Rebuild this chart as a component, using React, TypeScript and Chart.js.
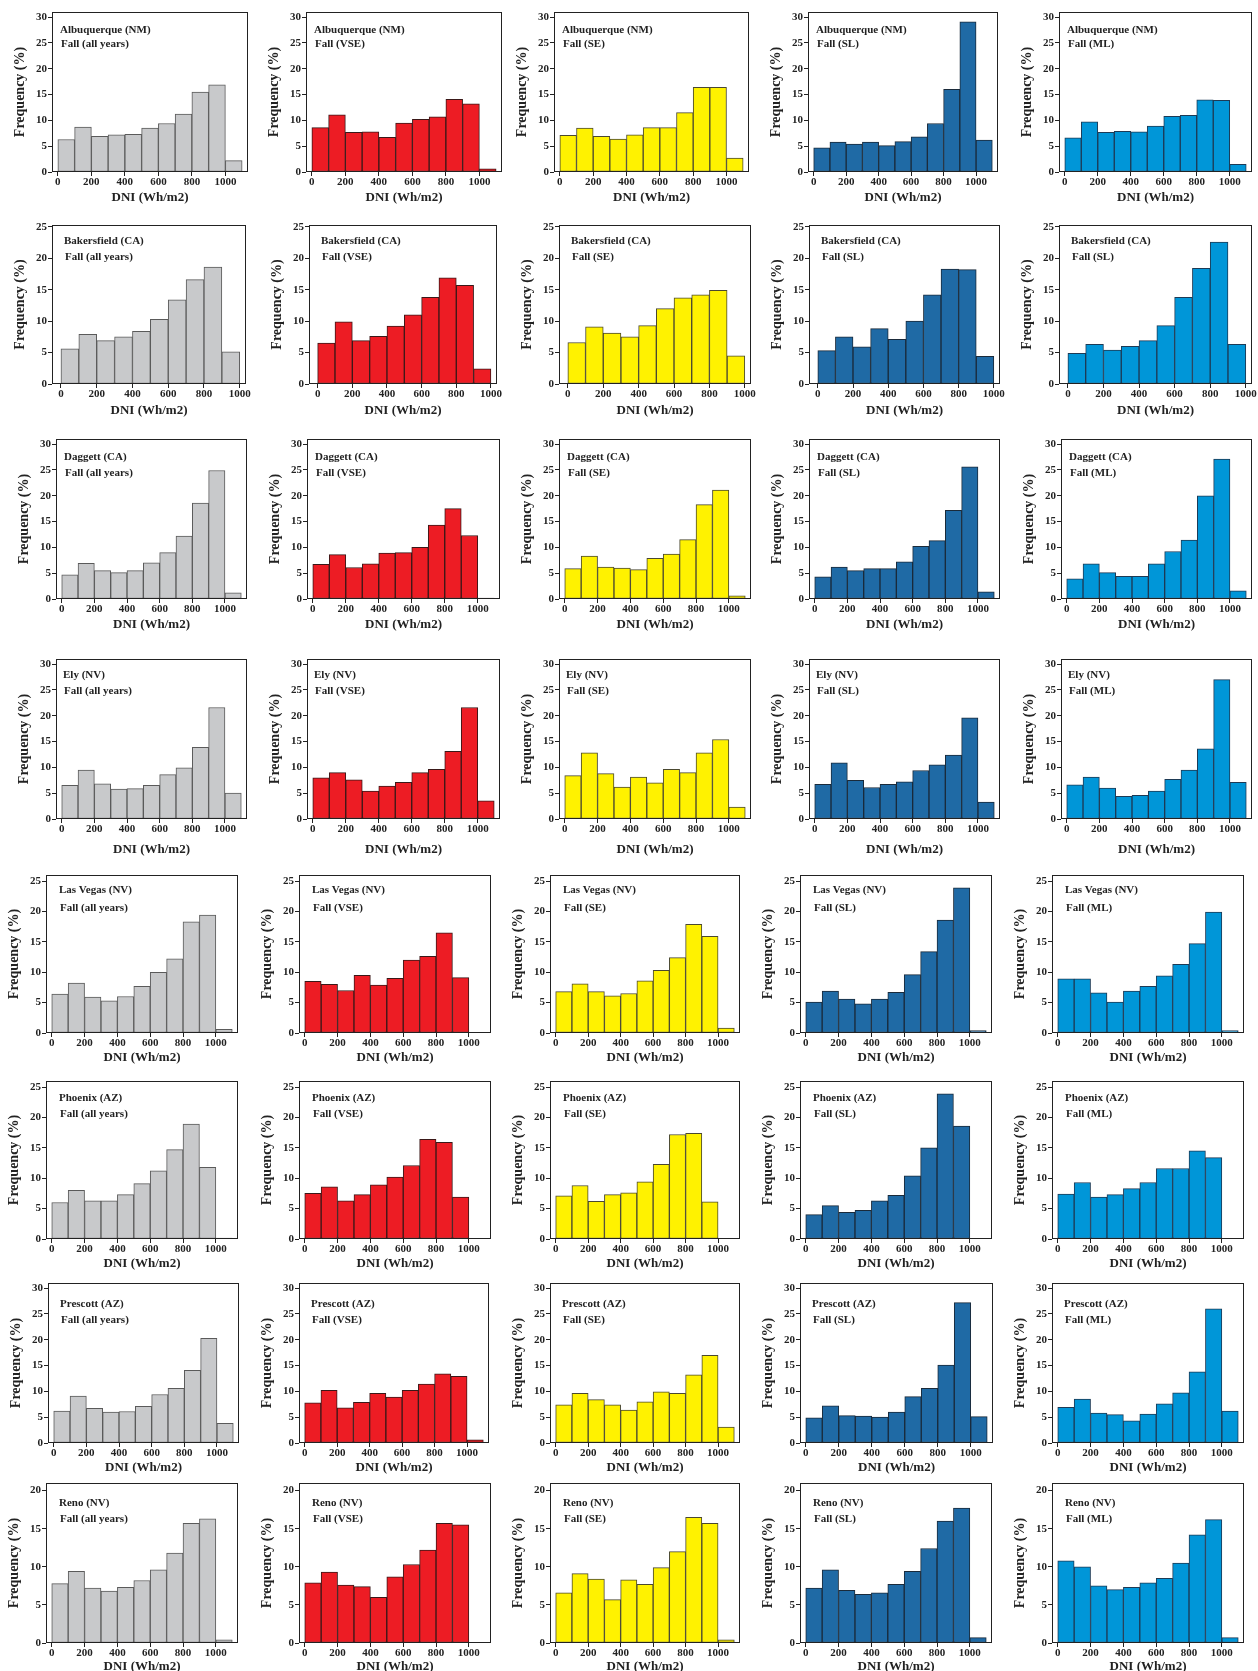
import React, { useEffect, useRef } from "react";
import { Chart, registerables } from "chart.js";

Chart.register(...registerables);

// ---------------- data ----------------
const stations = [
  "Albuquerque (NM)",
  "Bakersfield (CA)",
  "Daggett (CA)",
  "Ely (NV)",
  "Las Vegas (NV)",
  "Phoenix (AZ)",
  "Prescott (AZ)",
  "Reno (NV)",
];
const seasonLabels = ["Fall (all years)", "Fall (VSE)", "Fall (SE)", "Fall (SL)", "Fall (ML)"];
const bakersfieldLabels = ["Fall (all years)", "Fall (VSE)", "Fall (SE)", "Fall (SL)", "Fall (SL)"];

const binCenters = [50, 150, 250, 350, 450, 550, 650, 750, 850, 950, 1050];
const xTickValues = [0, 200, 400, 600, 800, 1000];
const yTicks30 = [0, 5, 10, 15, 20, 25, 30];
const yTicks25 = [0, 5, 10, 15, 20, 25];
const yTicks20 = [0, 5, 10, 15, 20];

const abqAll = [6.3, 8.7, 6.9, 7.2, 7.3, 8.5, 9.4, 11.2, 15.5, 16.9, 2.2];
const abqVSE = [8.6, 11.1, 7.7, 7.8, 6.7, 9.5, 10.2, 10.7, 14.1, 13.2, 0.6];
const abqSE = [7.1, 8.5, 6.9, 6.4, 7.2, 8.6, 8.6, 11.5, 16.4, 16.4, 2.7];
const abqSL = [4.7, 5.8, 5.4, 5.8, 5.1, 5.9, 6.8, 9.4, 16.0, 29.1, 6.2];
const abqML = [6.6, 9.7, 7.7, 7.9, 7.8, 8.9, 10.8, 11.0, 14.0, 13.9, 1.5];

const bakAll = [5.6, 7.9, 6.9, 7.5, 8.4, 10.3, 13.4, 16.6, 18.6, 5.1];
const bakVSE = [6.5, 9.9, 6.9, 7.6, 9.2, 11.0, 13.8, 16.9, 15.7, 2.4];
const bakSE = [6.6, 9.1, 8.1, 7.5, 9.3, 12.0, 13.7, 14.2, 14.9, 4.5];
const bakSL = [5.3, 7.5, 5.9, 8.8, 7.1, 10.0, 14.2, 18.3, 18.2, 4.4];
const bakML = [4.9, 6.3, 5.4, 6.0, 6.9, 9.3, 13.8, 18.4, 22.6, 6.3];

const dagAll = [4.7, 6.9, 5.5, 5.1, 5.5, 7.0, 9.0, 12.2, 18.6, 24.9, 1.2];
const dagVSE = [6.7, 8.6, 6.1, 6.8, 8.9, 9.0, 10.0, 14.3, 17.5, 12.3, 0.2];
const dagSE = [5.9, 8.3, 6.2, 6.0, 5.7, 7.9, 8.7, 11.5, 18.3, 21.1, 0.6];
const dagSL = [4.3, 6.2, 5.5, 5.9, 5.9, 7.2, 10.2, 11.3, 17.2, 25.6, 1.4];
const dagML = [3.9, 6.8, 5.1, 4.4, 4.4, 6.8, 9.2, 11.4, 20.0, 27.1, 1.6];

const elyAll = [6.5, 9.5, 6.8, 5.8, 5.9, 6.5, 8.6, 9.9, 13.9, 21.6, 5.0];
const elyVSE = [8.0, 9.0, 7.6, 5.4, 6.4, 7.1, 9.0, 9.6, 13.1, 21.6, 3.5];
const elySE = [8.4, 12.8, 8.8, 6.2, 8.1, 7.0, 9.6, 9.0, 12.8, 15.4, 2.3];
const elySL = [6.7, 10.9, 7.5, 6.1, 6.7, 7.2, 9.4, 10.5, 12.4, 19.6, 3.3];
const elyML = [6.6, 8.1, 6.0, 4.4, 4.6, 5.4, 7.7, 9.5, 13.6, 27.0, 7.1];

const lvAll = [6.4, 8.2, 5.9, 5.3, 6.0, 7.7, 10.0, 12.2, 18.3, 19.4, 0.6];
const lvVSE = [8.5, 8.0, 7.0, 9.5, 7.9, 9.0, 12.0, 12.6, 16.5, 9.1, 0.1];
const lvSE = [6.8, 8.1, 6.8, 6.1, 6.5, 8.6, 10.3, 12.4, 17.9, 15.9, 0.8];
const lvSL = [5.1, 6.9, 5.6, 4.8, 5.6, 6.7, 9.6, 13.4, 18.6, 23.9, 0.4];
const lvML = [8.9, 8.9, 6.6, 5.1, 6.9, 7.7, 9.4, 11.3, 14.7, 19.9, 0.4];

const phxAll = [6.0, 8.0, 6.3, 6.3, 7.3, 9.1, 11.2, 14.7, 18.9, 11.8, 0.15];
const phxVSE = [7.5, 8.6, 6.3, 7.3, 8.9, 10.2, 12.1, 16.4, 15.9, 6.9, 0.1];
const phxSE = [7.1, 8.8, 6.2, 7.3, 7.6, 9.4, 12.3, 17.2, 17.4, 6.1, 0.1];
const phxSL = [4.0, 5.5, 4.4, 4.7, 6.3, 7.2, 10.4, 15.0, 23.9, 18.6, 0.1];
const phxML = [7.4, 9.3, 6.9, 7.3, 8.3, 9.3, 11.6, 11.6, 14.5, 13.4, 0.1];

const preAll = [6.2, 9.1, 6.7, 6.0, 6.1, 7.1, 9.4, 10.6, 14.1, 20.3, 3.8];
const preVSE = [7.8, 10.2, 6.8, 7.9, 9.6, 8.9, 10.2, 11.4, 13.4, 12.9, 0.6];
const preSE = [7.4, 9.6, 8.4, 7.4, 6.4, 8.0, 9.9, 9.6, 13.2, 17.0, 3.1];
const preSL = [4.9, 7.2, 5.3, 5.2, 5.0, 6.0, 9.0, 10.6, 15.1, 27.2, 5.1];
const preML = [6.9, 8.5, 5.8, 5.5, 4.3, 5.6, 7.6, 9.7, 13.8, 26.0, 6.2];

const renAll = [7.8, 9.4, 7.2, 6.8, 7.3, 8.2, 9.6, 11.8, 15.7, 16.3, 0.4];
const renVSE = [7.9, 9.3, 7.6, 7.4, 6.0, 8.7, 10.3, 12.2, 15.7, 15.5, 0.1];
const renSE = [6.6, 9.1, 8.4, 5.7, 8.3, 7.7, 9.9, 12.0, 16.5, 15.7, 0.4];
const renSL = [7.2, 9.6, 6.9, 6.4, 6.6, 7.7, 9.4, 12.4, 16.0, 17.7, 0.7];
const renML = [10.8, 10.0, 7.5, 7.0, 7.3, 7.9, 8.5, 10.5, 14.2, 16.2, 0.7];

const seriesByRow = [
  [abqAll, abqVSE, abqSE, abqSL, abqML],
  [bakAll, bakVSE, bakSE, bakSL, bakML],
  [dagAll, dagVSE, dagSE, dagSL, dagML],
  [elyAll, elyVSE, elySE, elySL, elyML],
  [lvAll, lvVSE, lvSE, lvSL, lvML],
  [phxAll, phxVSE, phxSE, phxSL, phxML],
  [preAll, preVSE, preSE, preSL, preML],
  [renAll, renVSE, renSE, renSL, renML],
];
const rowYMax = [31, 25.3, 31, 31, 26, 26, 31, 21];
const rowYTicks = [yTicks30, yTicks25, yTicks30, yTicks30, yTicks25, yTicks25, yTicks30, yTicks20];
const rowXMin = [-35, -50, -35, -35, -35, -35, -35, -35];
const rowXMax = [1135, 1035, 1135, 1135, 1135, 1135, 1135, 1135];

// ---------------- styles / layout ----------------
const fills = ["#c8c9cb", "#ed1c24", "#fff200", "#1f6aa5", "#0096d8"];
const edges = ["#5a5a5a", "#3a1818", "#4a4830", "#1a2a3a", "#1d3a55"];

const rowTop = [12, 225, 439, 659, 875, 1081, 1283, 1483];
const rowBottom = [172, 384, 599, 819, 1033, 1239, 1443, 1643];
const rowLefts = [
  [52, 306, 554, 808, 1059],
  [52, 309, 559, 809, 1059],
  [56, 307, 559, 809, 1061],
  [56, 307, 559, 809, 1061],
  [46, 299, 550, 800, 1052],
  [46, 299, 550, 800, 1052],
  [48, 299, 550, 800, 1052],
  [46, 299, 550, 800, 1052],
];
const rowRights = [
  [248, 502, 749, 998, 1252],
  [246, 497, 751, 1000, 1252],
  [247, 500, 751, 1000, 1252],
  [247, 500, 751, 1000, 1252],
  [238, 491, 740, 992, 1244],
  [238, 491, 740, 992, 1244],
  [239, 489, 740, 993, 1244],
  [238, 491, 740, 992, 1244],
];
const rowXTitleOffset = [26, 27, 26, 31, 25, 25, 25, 24];
const rowText1 = [18, 16, 18, 16, 15, 17, 21, 20];
const rowText2 = [32, 32, 34, 32, 33, 33, 37, 36];
const rowTextInset = [8, 12, 8, 7, 13, 13, 12, 13];

const FONT = '"Liberation Serif", "Times New Roman", serif';
const M_L = 56;
const M_T = 10;
const M_R = 10;
const M_B = 42;

type PanelProps = { row: number; col: number };

function Panel({ row, col }: PanelProps) {
  const ref = useRef<HTMLCanvasElement>(null);
  const left = rowLefts[row][col];
  const right = rowRights[row][col];
  const top = rowTop[row];
  const bottom = rowBottom[row];
  const W = right - left + M_L + M_R;
  const H = bottom - top + M_T + M_B;

  useEffect(() => {
    const canvas = ref.current;
    if (!canvas) return;
    const values = seriesByRow[row][col];
    const title = stations[row];
    const sub = row === 1 ? bakersfieldLabels[col] : seasonLabels[col];
    const yTickVals = rowYTicks[row];

    const decor = {
      id: "decor" + row + "_" + col,
      afterDatasetsDraw(chart: any) {
        const { ctx, chartArea: a } = chart;
        ctx.save();
        ctx.strokeStyle = "#222";
        ctx.lineWidth = 1;
        const l = Math.round(a.left) + 0.5;
        const t = Math.round(a.top) + 0.5;
        const r = Math.round(a.right) - 0.5;
        const b = Math.round(a.bottom) - 0.5;
        ctx.strokeRect(l, t, r - l, b - t);

        ctx.fillStyle = "#222";
        ctx.textAlign = "left";
        ctx.textBaseline = "middle";
        ctx.font = "bold 11px " + FONT;
        ctx.fillText(title, a.left + rowTextInset[row], a.top + rowText1[row]);
        ctx.fillText(sub, a.left + rowTextInset[row] + 1, a.top + rowText2[row]);

        ctx.font = "bold 13px " + FONT;
        ctx.textAlign = "center";
        ctx.fillText("DNI (Wh/m2)", (a.left + a.right) / 2, a.bottom + rowXTitleOffset[row]);

        ctx.translate(a.left - 32, (a.top + a.bottom) / 2);
        ctx.rotate(-Math.PI / 2);
        ctx.font = "bold 14px " + FONT;
        ctx.fillText("Frequency (%)", 0, 0);
        ctx.restore();
      },
    };

    const tickFont = { family: FONT, size: 11, weight: "bold" as const };

    const chart = new Chart(canvas, {
      type: "bar",
      data: {
        datasets: [
          {
            data: values.map((v, i) => ({ x: binCenters[i], y: v })),
            backgroundColor: fills[col],
            borderColor: edges[col],
            borderWidth: 1,
            borderSkipped: false,
            barPercentage: 1,
            categoryPercentage: 1,
          } as any,
        ],
      },
      options: {
        animation: false,
        responsive: false,
        maintainAspectRatio: false,
        layout: { padding: { top: M_T, right: M_R, left: 0, bottom: 0 } },
        plugins: { legend: { display: false }, tooltip: { enabled: false } },
        scales: {
          x: {
            type: "linear",
            min: rowXMin[row],
            max: rowXMax[row],
            offset: false,
            afterFit: (s: any) => {
              s.height = M_B;
            },
            afterBuildTicks: (s: any) => {
              s.ticks = xTickValues.map((v) => ({ value: v }));
            },
            grid: {
              display: true,
              drawOnChartArea: false,
              drawTicks: true,
              tickLength: 4,
              color: "#222",
              offset: false,
            },
            border: { display: false },
            ticks: {
              font: tickFont,
              color: "#222",
              padding: 0,
              maxRotation: 0,
              autoSkip: false,
              callback: (v: any) => String(v),
            },
          },
          y: {
            type: "linear",
            min: 0,
            max: rowYMax[row],
            afterFit: (s: any) => {
              s.width = M_L;
            },
            afterBuildTicks: (s: any) => {
              s.ticks = yTickVals.map((v) => ({ value: v }));
            },
            grid: {
              display: true,
              drawOnChartArea: false,
              drawTicks: true,
              tickLength: 4,
              color: "#222",
            },
            border: { display: false },
            ticks: {
              font: tickFont,
              color: "#222",
              padding: 1,
              autoSkip: false,
              callback: (v: any) => String(v),
            },
          },
        },
      } as any,
      plugins: [decor],
    });
    return () => chart.destroy();
  }, [row, col]);

  return (
    <canvas
      ref={ref}
      width={W}
      height={H}
      style={{
        position: "absolute",
        left: left - M_L,
        top: top - M_T,
        width: W,
        height: H,
      }}
    />
  );
}

export default function App() {
  const panels: PanelProps[] = [];
  for (let r = 0; r < stations.length; r++) {
    for (let c = 0; c < 5; c++) panels.push({ row: r, col: c });
  }
  return (
    <div
      style={{
        position: "absolute",
        left: 0,
        top: 0,
        width: 1258,
        height: 1671,
        overflow: "hidden",
        background: "#ffffff",
      }}
    >
      {panels.map((p) => (
        <Panel key={p.row + "-" + p.col} row={p.row} col={p.col} />
      ))}
    </div>
  );
}
